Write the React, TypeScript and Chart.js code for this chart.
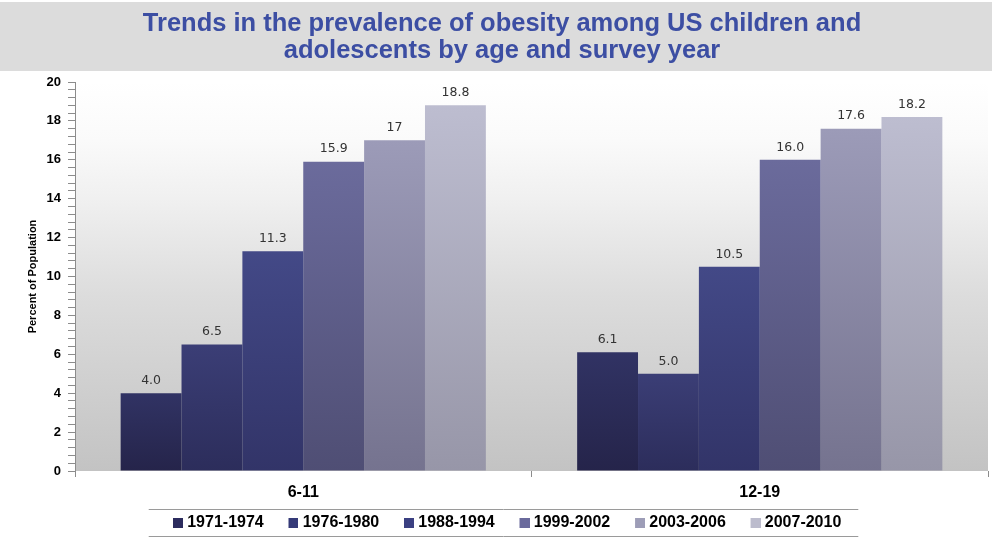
import React, { useEffect, useRef } from "react";
import { Chart, registerables } from "chart.js";

Chart.register(...registerables);

const titleLines = [
  "Trends in the prevalence of obesity among US children and",
  "adolescents by age and survey year",
];
const yAxisTitle = "Percent of Population";
const categories = ["6-11", "12-19"];
const seriesNames = ["1971-1974", "1976-1980", "1988-1994", "1999-2002", "2003-2006", "2007-2010"];
const values6to11 = [4.0, 6.5, 11.3, 15.9, 17, 18.8];
const values12to19 = [6.1, 5.0, 10.5, 16.0, 17.6, 18.2];
const labels6to11 = ["4.0", "6.5", "11.3", "15.9", "17", "18.8"];
const labels12to19 = ["6.1", "5.0", "10.5", "16.0", "17.6", "18.2"];
const yMin = 0;
const yMax = 20;
const yMinorStep = 0.4;
const yMajorStep = 2;

const barTopColors = ["#313364", "#3b3e76", "#434987", "#6b6b9c", "#9c9bb8", "#bdbdd0"];
const barBottomColors = ["#25244a", "#2c2d5b", "#323468", "#4f4e74", "#75738f", "#9796a8"];
const legendColors = ["#2c2c5e", "#353a78", "#3b4082", "#6a6a9c", "#9d9db7", "#bcbccd"];

const FONT = "'Liberation Sans', Arial, sans-serif";

function makeSwatch(color: string) {
  const c = document.createElement("canvas");
  c.width = 24;
  c.height = 10;
  const x = c.getContext("2d");
  if (x) {
    x.fillStyle = color;
    x.fillRect(14, 0, 10, 10);
  }
  return c;
}

const decorPlugin = {
  id: "decor",
  beforeDraw(chart: any) {
    const { ctx, chartArea } = chart;
    ctx.save();
    ctx.fillStyle = "#dcdcdc";
    ctx.fillRect(0, 2, chart.width, 69);
    const g = ctx.createLinearGradient(0, chartArea.top, 0, chartArea.bottom);
    g.addColorStop(0, "#ffffff");
    g.addColorStop(0.15, "#fafafa");
    g.addColorStop(0.3, "#f0f0f0");
    g.addColorStop(0.55, "#dcdcdc");
    g.addColorStop(1, "#c3c3c3");
    ctx.fillStyle = g;
    ctx.fillRect(chartArea.left, chartArea.top, chartArea.right - chartArea.left, chartArea.bottom - chartArea.top);
    ctx.restore();
  },
  afterDatasetsDraw(chart: any) {
    const { ctx } = chart;
    ctx.save();
    ctx.font = "12.5px 'DejaVu Sans', sans-serif";
    ctx.fillStyle = "#333333";
    ctx.textAlign = "center";
    ctx.textBaseline = "middle";
    chart.data.datasets.forEach((ds: any, i: number) => {
      const meta = chart.getDatasetMeta(i);
      meta.data.forEach((el: any, j: number) => {
        const txt = j === 0 ? labels6to11[i] : labels12to19[i];
        ctx.fillText(txt, el.x, el.y - 12.5);
      });
    });
    ctx.restore();
  },
  afterDraw(chart: any) {
    const lg = chart.legend;
    if (!lg || !lg.legendHitBoxes || !lg.legendHitBoxes.length) return;
    const hb = lg.legendHitBoxes;
    const first = hb[0];
    const last = hb[hb.length - 1];
    const cy = first.top + first.height / 2;
    const left = first.left - 14;
    const right = last.left + last.width + 17;
    const { ctx } = chart;
    ctx.save();
    ctx.strokeStyle = "#9a9a9a";
    ctx.lineWidth = 1;
    ctx.beginPath();
    ctx.moveTo(left, Math.round(cy - 14) + 0.5);
    ctx.lineTo(right, Math.round(cy - 14) + 0.5);
    ctx.moveTo(left, Math.round(cy + 13) + 0.5);
    ctx.lineTo(right, Math.round(cy + 13) + 0.5);
    ctx.stroke();
    ctx.restore();
  },
};

export default function App() {
  const ref = useRef<HTMLCanvasElement | null>(null);
  useEffect(() => {
    if (!ref.current) return;
    const swatches = legendColors.map(makeSwatch);
    const datasets = seriesNames.map((name, i) => ({
      label: name,
      data: [values6to11[i], values12to19[i]],
      borderWidth: 0,
      backgroundColor: (c: any) => {
        const chart = c.chart;
        if (!chart.chartArea || c.type !== "data") return legendColors[i];
        const y = chart.scales.y;
        const top = y.getPixelForValue(c.raw as number);
        const bottom = y.getPixelForValue(0);
        const g = chart.ctx.createLinearGradient(0, top, 0, bottom);
        g.addColorStop(0, barTopColors[i]);
        g.addColorStop(1, barBottomColors[i]);
        return g;
      },
    }));
    const chart = new Chart(ref.current, {
      type: "bar",
      data: { labels: categories, datasets },
      plugins: [decorPlugin],
      options: {
        responsive: false,
        animation: false,
        devicePixelRatio: 1,
        layout: { padding: { left: 16, right: 4, top: 0, bottom: 12.5 } },
        datasets: { bar: { categoryPercentage: 0.8, barPercentage: 1 } },
        scales: {
          x: {
            offset: true,
            border: { display: false },
            grid: { display: true, drawOnChartArea: false, drawTicks: true, tickLength: 6, tickColor: "#8c8c8c", offset: true },
            ticks: { color: "#000", font: { family: FONT, size: 16, weight: "bold" }, padding: 6 },
            afterFit: (s: any) => { s.height = 29.5; },
          },
          y: {
            min: yMin,
            max: yMax,
            border: { display: true, color: "#8c8c8c" },
            grid: { display: true, drawOnChartArea: false, drawTicks: true, tickLength: 7, tickColor: "#8c8c8c" },
            ticks: {
              stepSize: yMinorStep,
              autoSkip: false,
              padding: 7,
              color: "#000",
              font: { family: FONT, size: 13, weight: "bold" },
              callback: (v: any) => {
                const n = Number(v);
                const r = Math.round(n);
                if (Math.abs(n - r) < 1e-6 && r % yMajorStep === 0) return String(r);
                return "";
              },
            },
            title: {
              display: true,
              text: yAxisTitle,
              color: "#000",
              font: { family: FONT, size: 11, weight: "bold" },
              padding: { top: 10.4, bottom: 0 },
            },
            afterFit: (s: any) => { s.width = 59; },
          },
        },
        plugins: {
          title: {
            display: true,
            text: titleLines,
            color: "#3c4ea3",
            font: { family: FONT, size: 25.5, weight: "bold", lineHeight: 1.05 },
            padding: { top: 10.5, bottom: 17.95 },
          },
          legend: {
            display: true,
            position: "bottom",
            maxHeight: 35,
            labels: {
              usePointStyle: true,
              pointStyleWidth: 16.5,
              boxHeight: 10,
              padding: 14.5,
              color: "#000",
              font: { family: FONT, size: 16, weight: "bold" },
              generateLabels: () =>
                seriesNames.map((n, i) => ({
                  text: n,
                  fillStyle: legendColors[i],
                  strokeStyle: legendColors[i],
                  lineWidth: 0,
                  pointStyle: swatches[i],
                  hidden: false,
                  datasetIndex: i,
                  fontColor: "#000",
                })),
            },
          },
          tooltip: { enabled: false },
        },
      } as any,
    });
    return () => chart.destroy();
  }, []);
  return (
    <div style={{ position: "absolute", left: 0, top: 0, width: 992, height: 548 }}>
      <canvas ref={ref} width={992} height={548} style={{ display: "block" }} />
    </div>
  );
}
